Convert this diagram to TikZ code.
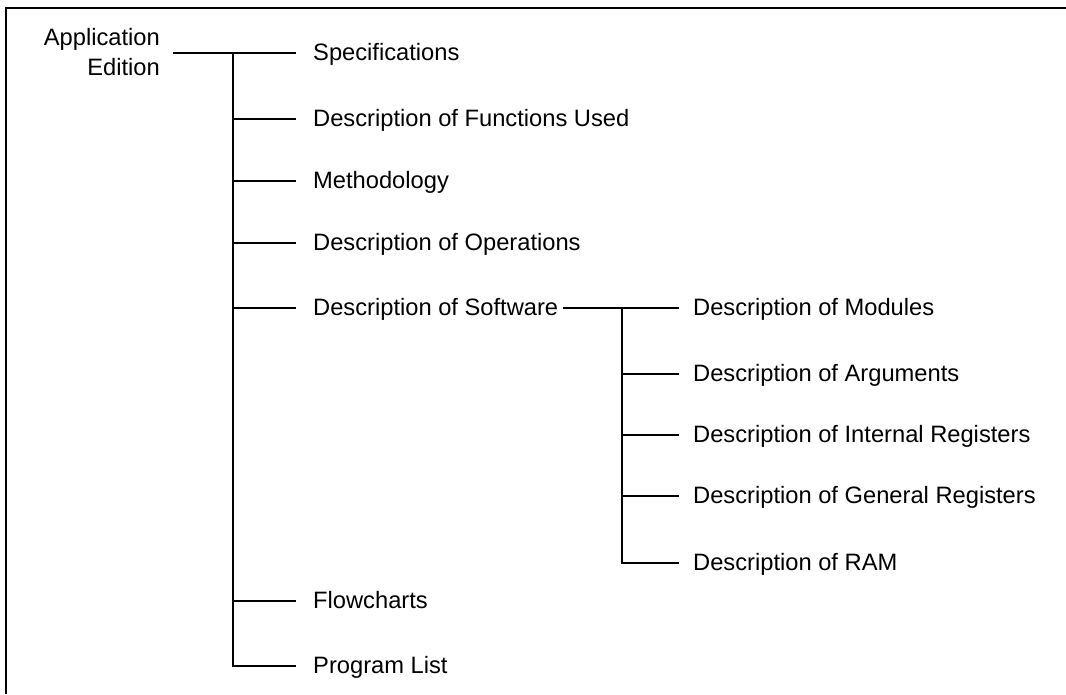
\documentclass[tikz,border=0pt]{standalone}
\usepackage{fontspec}
\setmainfont{Liberation Sans}
\begin{document}
\begin{tikzpicture}[x=1pt,y=-1pt,
  txt/.style={font=\fontsize{23.7}{30}\selectfont},
  lbl/.style={txt, anchor=west, inner xsep=0pt, inner ysep=0pt, text height=18pt, text depth=4pt},
  conn/.style={line width=1.2pt, black},
  frame/.style={line width=2.6pt, black}]
\useasboundingbox (0,0) rectangle (1066,694);
\draw[frame] (6,694) -- (6,8) -- (1066,8);

% root
\node[txt, align=right, anchor=base east, inner sep=0pt] (root) at (160,75) {Application\\Edition};

% main children
\node[lbl] (spec) at (313,53) {Specifications};
\node[lbl] (func) at (313,119) {Description of Functions Used};
\node[lbl] (meth) at (313,181) {Methodology};
\node[lbl] (oper) at (313,243) {Description of Operations};
\node[lbl] (soft) at (313,308) {Description of Software};
\node[lbl] (flow) at (313,601) {Flowcharts};
\node[lbl] (prog) at (313,666) {Program List};

% sub children
\node[lbl] (mods) at (693,308) {Description of Modules};
\node[lbl] (args) at (693,374) {Description of Arguments};
\node[lbl] (intr) at (693,435) {Description of Internal Registers};
\node[lbl] (genr) at (693,496) {Description of General Registers};
\node[lbl] (ram)  at (693,563) {Description of RAM};

% junctions
\coordinate (t0) at (233,53);
\coordinate (s0) at (622,308);

% main connectors
\draw[conn, shorten <=13pt, shorten >=17pt] (root.east |- spec.west) -- (spec.west);
\draw[conn, shorten >=17pt] (t0) |- (prog.west);
\foreach \n in {func,meth,oper,soft,flow}
  \draw[conn, shorten >=17pt] (t0 |- \n.west) -- (\n.west);

% sub connectors
\draw[conn, shorten <=5pt, shorten >=14pt] (soft.east) -- (mods.west);
\draw[conn, shorten >=14pt] (s0) |- (ram.west);
\foreach \n in {args,intr,genr}
  \draw[conn, shorten >=14pt] (s0 |- \n.west) -- (\n.west);
\end{tikzpicture}
\end{document}
